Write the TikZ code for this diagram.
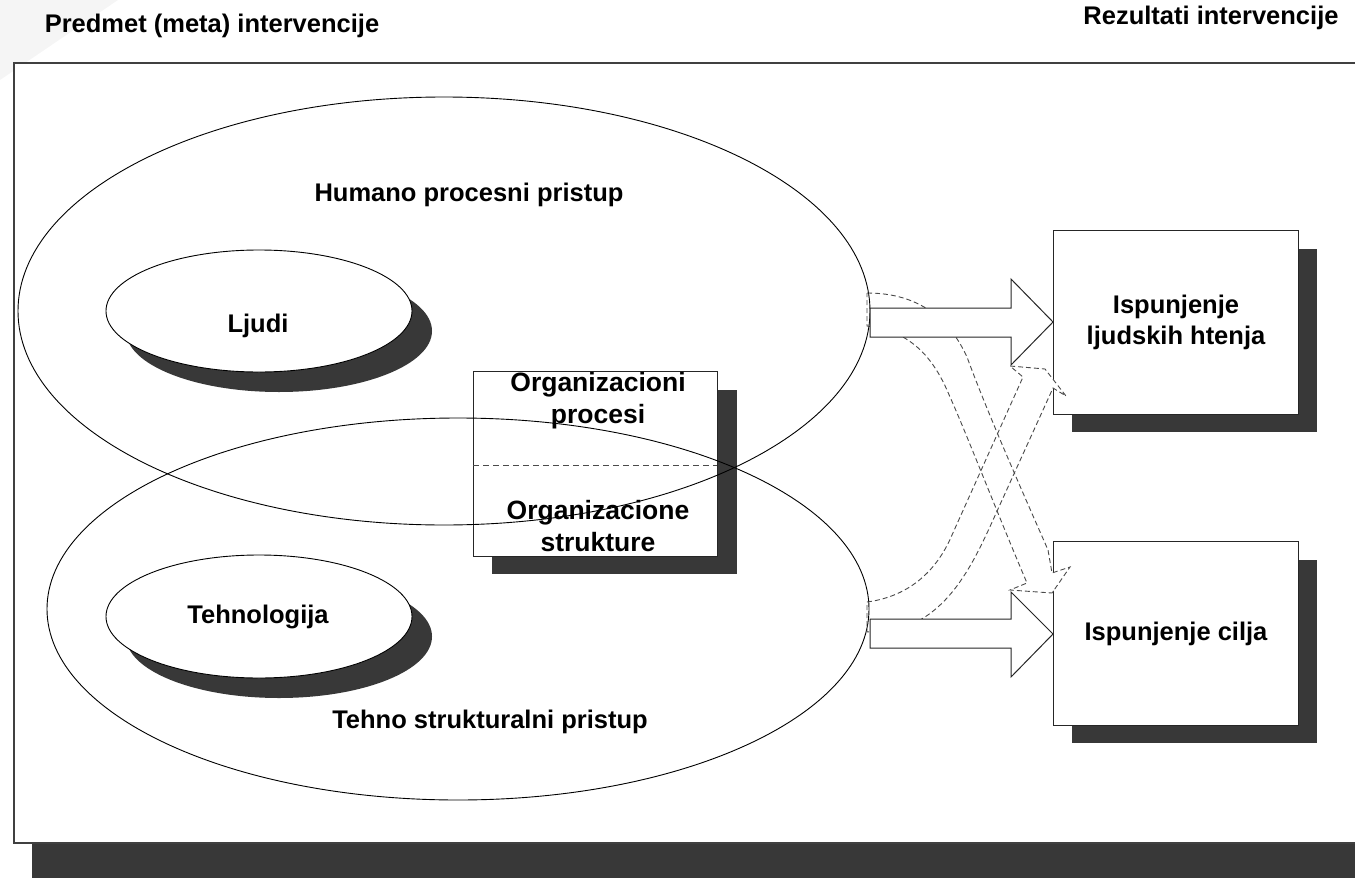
\documentclass[tikz,border=0pt]{standalone}
\usepackage{fontspec}
\setmainfont{Liberation Sans}
\usetikzlibrary{shapes.geometric}
\definecolor{darkshadow}{HTML}{383838}
\definecolor{dashgray}{HTML}{4A4A4A}
\tikzset{
  lbl/.style={font=\fontsize{25.5}{31}\selectfont\bfseries, align=center, inner sep=0pt},
  card/.style={draw=black!85, line width=1pt, fill=white, inner sep=0pt, outer sep=0pt},
  ring/.style={ellipse, draw=black, line width=0.9pt, inner sep=0pt, outer sep=0pt},
  flow/.style={draw=dashgray, dash pattern=on 5pt off 3pt, line width=0.9pt},
  blockarrow/.style={draw=black!85, fill=white, line width=1pt, line join=miter},
  dropshadow/.style={fill=darkshadow},
}
\begin{document}
\begin{tikzpicture}[x=1pt,y=-1pt]
\useasboundingbox (0,0) rectangle (1355,878);
\clip (0,0) rectangle (1355,878);
% faint corner of the slide background
\fill[black!4] (0,0) -- (118,0) -- (0,80) -- cycle;

% outer frame with its shadow
\fill[dropshadow] (32,843) rectangle (1375,895);
\draw[black!75, line width=1.3pt, fill=white] (14,63) rectangle (1375,843);

% headings
\node[lbl] (tl) at (212,26) {Predmet (meta) intervencije};
\node[lbl] (tr) at (1211,18) {Rezultati intervencije};

% organisation box (under the ellipse outlines)
\fill[dropshadow] (492,390) rectangle (737,574);
\node[card, minimum width=244pt, minimum height=185pt, anchor=north west] (org) at (473,371) {};
\draw[dashgray, dash pattern=on 6pt off 4pt, line width=0.9pt] (org.west |- 0,465) -- (org.east |- 0,465);

% the two approaches
\node[ring, minimum width=852pt, minimum height=428pt] (hum) at (444,311) {};
\node[ring, minimum width=822pt, minimum height=382pt] (teh) at (458,609) {};

% inner ellipses with shadows
\fill[dropshadow] (279,331) ellipse [x radius=153pt, y radius=61pt];
\node[ring, fill=white, minimum width=306pt, minimum height=122pt] (ljudi) at (259,311) {};
\fill[dropshadow] (279,636.5) ellipse [x radius=153pt, y radius=61.5pt];
\node[ring, fill=white, minimum width=306pt, minimum height=123pt] (tehn) at (259,616.5) {};

% result boxes with shadows
\fill[dropshadow] (1072,249) rectangle (1317,432);
\node[card, minimum width=245pt, minimum height=184pt, anchor=north west] (htenja) at (1053,230) {};
\fill[dropshadow] (1072,560) rectangle (1317,743);
\node[card, minimum width=245pt, minimum height=184pt, anchor=north west] (cilj) at (1053,541) {};

% crossing dashed arrows
\fill[white] (1027,583) -- (1010,590) -- (1052,593) -- (1070,567) -- (1052,573) -- (1048,550) -- (1013,550) -- cycle;
\draw[flow] (867,293) .. controls (920,293) and (950,320) .. (967,357)
  .. controls (990,420) and (1035,520) .. (1048,550) -- (1052,573) -- (1070,567)
  -- (1052,593) -- (1010,590) -- (1027,583)
  .. controls (1000,520) and (965,430) .. (950,397)
  .. controls (938,368) and (920,338) .. (880,328) -- (867,326) -- cycle;
\fill[white] (1023,377) -- (1010,366) -- (1045,369) -- (1066,396) -- (1053,388) -- (1043,410) -- (1013,398) -- cycle;
\draw[flow] (867,602) .. controls (905,597) and (935,575) .. (952,535)
  -- (1023,377) -- (1010,366) -- (1045,369) -- (1066,396) -- (1053,388)
  -- (993,520) .. controls (975,560) and (955,600) .. (920,620)
  -- (890,630) -- (867,632) -- cycle;

% block arrows towards the results
\draw[blockarrow] (870,308) -- (1011,308) -- (1011,279) -- (1053,322) -- (1011,365) -- (1011,337) -- (870,337) -- cycle;
\draw[blockarrow] (870,619) -- (1011,619) -- (1011,592) -- (1053,634) -- (1011,677) -- (1011,648) -- (870,648) -- cycle;

% labels
\node[lbl] (humlbl) at (469,195) {Humano procesni pristup};
\node[lbl] (tehlbl) at (490,722) {Tehno strukturalni pristup};
\node[lbl] (ljlbl) at (258,326) {Ljudi};
\node[lbl] (tnlbl) at (258,617) {Tehnologija};
\node[lbl, font=\fontsize{26.5}{32}\selectfont\bfseries] (proc) at (598,401) {Organizacioni\\procesi};
\node[lbl, font=\fontsize{26.5}{32}\selectfont\bfseries] (strk) at (598,526) {Organizacione\\strukture};
\node[lbl] (htlbl) at (1176,322) {Ispunjenje\\ljudskih htenja};
\node[lbl] (cilbl) at (1176,634) {Ispunjenje cilja};
\end{tikzpicture}
\end{document}
